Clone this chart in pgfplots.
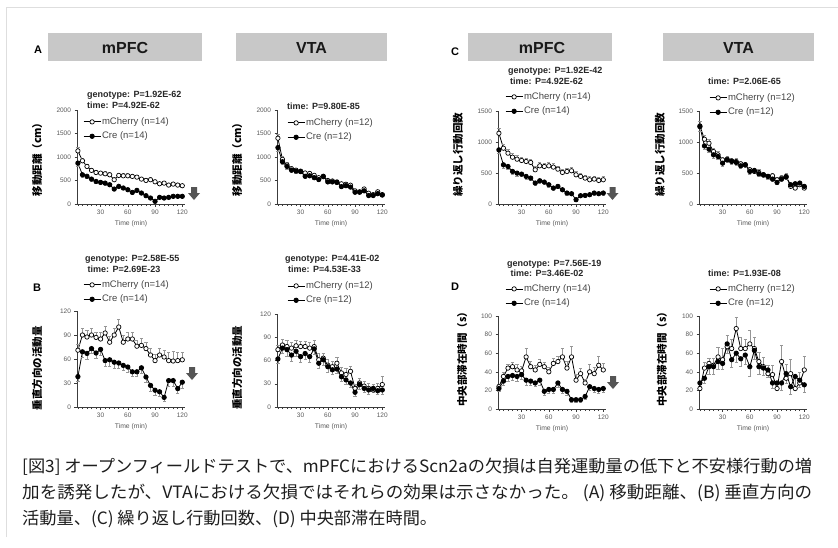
\documentclass[border=0pt]{standalone}
\usepackage{fontspec}
\setmainfont{Liberation Sans}
\newfontfamily\jp{Noto Sans CJK JP}
\usepackage{graphicx}
\usepackage{pgfplots}
\usepackage{pgfplotstable}
\pgfplotsset{compat=1.18}

\definecolor{hdr}{RGB}{200,200,200}
\definecolor{framegray}{RGB}{222,222,222}
\definecolor{axgray}{RGB}{60,60,60}
\definecolor{tickgray}{RGB}{90,90,90}
\definecolor{errgray}{RGB}{150,150,150}
\definecolor{arrgray}{RGB}{85,85,85}
\definecolor{legtext}{RGB}{70,70,70}
\definecolor{captext}{RGB}{30,30,30}

\pgfplotstableread{
x m me c ce
5 1130 70 870 60
10 920 60 622 50
15 800 55 590 45
20 715 50 530 45
25 670 50 480 40
30 657 50 460 40
35 643 50 445 40
40 622 45 410 40
45 516 45 318 35
50 608 50 375 40
55 600 50 340 35
60 600 50 304 35
65 587 45 247 30
70 572 45 290 35
75 530 45 233 30
80 502 45 177 30
85 516 45 127 25
90 473 40 57 20
95 431 40 141 25
100 445 40 127 25
105 403 40 141 25
110 424 40 163 25
115 403 35 163 25
120 389 35 163 25
}\am
\pgfplotstableread{
x m me c ce
5 1400 80 1200 70
10 950 60 900 55
15 830 55 800 50
20 750 50 720 45
25 720 50 700 45
30 700 50 690 45
35 660 45 590 40
40 650 45 600 40
45 610 45 560 40
50 560 40 520 40
55 580 40 590 40
60 500 40 470 35
65 490 40 470 35
70 470 40 460 35
75 430 35 370 30
80 420 35 390 30
85 400 35 360 30
90 280 30 250 30
95 260 30 250 30
100 320 30 280 30
105 230 30 180 25
110 200 30 180 25
115 260 30 220 25
120 200 30 190 25
}\av
\pgfplotstableread{
x m me c ce
5 1141 80 873 60
10 900 70 632 50
15 820 65 605 50
20 755 60 525 45
25 723 60 498 45
30 702 60 482 40
35 686 60 445 40
40 670 55 418 40
45 552 55 338 40
50 616 60 375 40
55 605 60 354 35
60 616 60 311 35
65 595 55 257 35
70 562 55 284 35
75 509 55 230 30
80 525 55 177 30
85 536 55 166 30
90 471 50 70 25
95 445 50 134 30
100 418 50 139 30
105 391 50 150 30
110 402 50 177 30
115 380 50 166 30
120 391 50 177 30
}\cm
\pgfplotstableread{
x m me c ce
5 1259 70 1248 70
10 1045 65 937 60
15 980 60 884 55
20 846 55 793 50
25 793 50 766 50
30 712 50 659 45
35 723 50 712 45
40 696 50 686 45
45 686 50 670 45
50 648 45 616 45
55 632 45 632 45
60 552 45 525 40
65 525 45 541 40
70 509 45 487 40
75 471 40 471 40
80 445 40 445 40
85 455 40 402 40
90 391 40 348 35
95 418 40 402 35
100 445 45 434 40
105 284 35 311 35
110 257 35 327 35
115 311 35 338 35
120 257 35 284 35
}\cv
\pgfplotstableread{
x m me c ce
5 71 8 38 6
10 90 9 69 7
15 87.5 8 67 7
20 90 8 73 6
25 87 7 67.5 6
30 85 8 72 7
35 92.5 9 58 7
40 81 8 59 8
45 90 8 56 7
50 100 10 55 7
55 81 9 52 6
60 85 9 50 6
65 85 8 44 6
70 76 8 44 5
75 77 9 49 7
80 73 8 37.5 7
85 65 9 27 7
90 58 8 21 6
95 65 8 19 5
100 62.5 8 12 5
105 58 10 33 7
110 57.5 12 33 7
115 58 11 23 6
120 59 10 31 7
}\bm
\pgfplotstableread{
x m me c ce
5 74 6 62 6
10 80 7 76 7
15 78 8 74 8
20 76 8 67 8
25 79 7 72 7
30 78 7 65 7
35 78 7 69 7
40 76 8 65 7
45 78 8 75 7
50 61 8 56.5 7
55 63 7 61 7
60 54 7 52 7
65 52 7 48 6
70 56.5 8 49 6
75 44 7 39 6
80 42 8 35 6
85 46 7 31 6
90 24 6 19 5
95 31 6 29 6
100 27 6 24 5
105 24 7 22 5
110 22 7 24 5
115 24 7 21 5
120 29 11 22 5
}\bv
\pgfplotstableread{
x m me c ce
5 24 3 22 3
10 35 4 30 4
15 44 4 35 5
20 45.5 5 36 5
25 42 6 35 5
30 41 5 37 5
35 56 9 31 5
40 45.5 6 30 4
45 42 5 28 4
50 48 6 31 5
55 45.5 5 19 4
60 40 5 21 4
65 49 6 21 4
70 51 6 28 5
75 56 9 21 4
80 44 7 19 4
85 56 12 10 3
90 31 6 10 3
95 38 6 10 3
100 28 4 13.5 3
105 40 8 24 4
110 38 7 22 4
115 47 10 21 4
120 42 7 22 4
}\dm
\pgfplotstableread{
x m me c ce
5 22 3 28 4
10 44 6 33 5
15 49 6 45.5 8
20 47 8 45.5 8
25 56 10 51 8
30 53 12 49 6
35 67 12 70 10
40 65 10 53 8
45 86.5 12 60 10
50 65 12 54 8
55 65 10 58 10
60 70 15 45.5 10
65 65 12 63 10
70 51 10 45.5 8
75 45.5 10 44 8
80 38 9 42 8
85 37 10 28 6
90 22 6 28 6
95 51 18 28 8
100 33 15 38 10
105 38 15 24 8
110 22 12 35 10
115 28 12 31 8
120 42 15 26 8
}\dv

\pgfplotsset{
  panel/.style={
    scale only axis, width=108pt, xmin=4, xmax=123, ymin=0,
    axis lines=left, axis line style={-, draw=axgray, line width=0.8pt},
    xtick={30,60,90,120}, minor xtick={5,10,...,120},
    tick align=outside, major tick length=2.5pt, minor tick length=2pt,
    tick style={draw=axgray, line width=0.5pt},
    ticklabel style={font=\fontsize{6.5}{7}\selectfont, text=tickgray},
    /pgf/number format/assume math mode=true,
    /pgf/number format/1000 sep={},
    scaled y ticks=false,
    xlabel={Time (min)},
    xlabel style={font=\fontsize{6.8}{8}\selectfont, text=tickgray, at={(axis description cs:0.5,0)}, anchor=center, yshift=-20pt},
    ylabel style={font=\jp\bfseries\fontsize{10.5}{12}\selectfont, text=black, anchor=center},
    clip=false,
    legend style={draw=none, fill=none, inner sep=0pt, row sep=4pt, font=\fontsize{9.5}{10}\selectfont, text=legtext, nodes={inner sep=1pt}, at={(axis description cs:0,1)}, anchor=north west},
    legend cell align=left,
  },
  mch/.style={black, line width=0.8pt, mark=*, mark size=2.2pt, mark options={fill=white, solid, line width=0.7pt},
    error bars/y dir=plus, error bars/y explicit,
    error bars/error bar style={errgray, line width=0.5pt},
    error bars/error mark options={errgray, rotate=90, mark size=1.6pt, line width=0.5pt}},
  cre/.style={black, line width=0.8pt, mark=*, mark size=2.2pt, mark options={fill=black, solid},
    error bars/y dir=minus, error bars/y explicit,
    error bars/error bar style={errgray, line width=0.5pt},
    error bars/error mark options={errgray, rotate=90, mark size=1.6pt, line width=0.5pt}},
}

\newlength\capw
\newcommand{\capfit}[2]{\settowidth{\capw}{#2}\pgfmathsetmacro\capr{#1/\capw}\scalebox{\capr}[1]{#2}}

\begin{document}
\begin{tikzpicture}
\path[use as bounding box] (0pt,0pt) rectangle (838pt,-547pt);
\fill[white] (0pt,0pt) rectangle (838pt,-547pt);
\draw[framegray, line width=1pt] (6pt,-537pt) -- (6pt,-7pt) -- (838pt,-7pt);

% headers
\fill[hdr] (48pt,-33pt) rectangle (202pt,-61pt);
\fill[hdr] (236pt,-33pt) rectangle (387pt,-61pt);
\fill[hdr] (468pt,-33pt) rectangle (612pt,-61pt);
\fill[hdr] (663pt,-33pt) rectangle (814pt,-61pt);
\begin{scope}[every node/.style={font=\bfseries\fontsize{16}{18}\selectfont, text=black!90}]
\node at (125pt,-47.5pt) {mPFC};
\node at (311.5pt,-47.5pt) {VTA};
\node at (542pt,-47.5pt) {mPFC};
\node at (738.5pt,-47.5pt) {VTA};
\end{scope}
\begin{scope}[every node/.style={font=\bfseries\fontsize{11}{12}\selectfont}]
\node at (38pt,-50pt) {A};
\node at (455pt,-52pt) {C};
\node at (37pt,-288pt) {B};
\node at (455pt,-287pt) {D};
\end{scope}

% stat titles
\begin{scope}[every node/.style={anchor=base west, inner sep=0pt, font=\bfseries\fontsize{9}{11}\selectfont, text=black!85}]
\node at (87pt,-97.2pt) {genotype: P=1.92E-62};
\node at (87pt,-108.2pt) {time: P=4.92E-62};
\node at (287pt,-109pt) {time: P=9.80E-85};
\node at (508pt,-73.2pt) {genotype: P=1.92E-42};
\node at (510pt,-84.2pt) {time: P=4.92E-62};
\node at (708pt,-84.2pt) {time: P=2.06E-65};
\node at (85pt,-261.2pt) {genotype: P=2.58E-55};
\node at (87.5pt,-272.2pt) {time: P=2.69E-23};
\node at (285pt,-261.2pt) {genotype: P=4.41E-02};
\node at (288pt,-272.2pt) {time: P=4.53E-33};
\node at (507pt,-266.2pt) {genotype: P=7.56E-19};
\node at (510.5pt,-276.2pt) {time: P=3.46E-02};
\node at (708pt,-276.2pt) {time: P=1.93E-08};
\end{scope}

% ---- A mPFC
\begin{axis}[panel, at={(77pt,-204pt)}, anchor=south west, height=94pt, ymax=2000, ytick={0,500,1000,1500,2000},
  ylabel={移動距離（cm）}, ylabel style={at={(axis description cs:-0.37,0.5)}},
  legend style={xshift=6pt, yshift=-6.5pt}]
\addplot[mch] table[x=x, y=m, y error=me] {\am};
\addplot[cre] table[x=x, y=c, y error=ce] {\am};
\legend{mCherry (n=14), Cre (n=14)}
\end{axis}
% ---- A VTA
\begin{axis}[panel, at={(277pt,-204pt)}, anchor=south west, height=94pt, ymax=2000, ytick={0,500,1000,1500,2000},
  ylabel={移動距離（cm）}, ylabel style={at={(axis description cs:-0.37,0.5)}},
  legend style={xshift=10pt, yshift=-7.5pt}]
\addplot[mch] table[x=x, y=m, y error=me] {\av};
\addplot[cre] table[x=x, y=c, y error=ce] {\av};
\legend{mCherry (n=12), Cre (n=12)}
\end{axis}
% ---- C mPFC
\begin{axis}[panel, at={(498pt,-204pt)}, anchor=south west, height=93pt, ymax=1500, ytick={0,500,1000,1500},
  ylabel={繰り返し行動回数}, ylabel style={at={(axis description cs:-0.37,0.527)}},
  legend style={xshift=7pt, yshift=19.5pt}]
\addplot[mch] table[x=x, y=m, y error=me] {\cm};
\addplot[cre] table[x=x, y=c, y error=ce] {\cm};
\legend{mCherry (n=14), Cre (n=14)}
\end{axis}
% ---- C VTA
\begin{axis}[panel, at={(699pt,-204pt)}, anchor=south west, height=93pt, ymax=1500, ytick={0,500,1000,1500},
  ylabel={繰り返し行動回数}, ylabel style={at={(axis description cs:-0.361,0.527)}},
  legend style={xshift=10pt, yshift=18.5pt}]
\addplot[mch] table[x=x, y=m, y error=me] {\cv};
\addplot[cre] table[x=x, y=c, y error=ce] {\cv};
\legend{mCherry (n=12), Cre (n=12)}
\end{axis}
% ---- B mPFC
\begin{axis}[panel, at={(77pt,-407pt)}, anchor=south west, height=96pt, ymax=120, ytick={0,30,60,90,120},
  ylabel={垂直方向の活動量}, ylabel style={at={(axis description cs:-0.37,0.406)}},
  legend style={xshift=6pt, yshift=31.5pt}]
\addplot[mch] table[x=x, y=m, y error=me] {\bm};
\addplot[cre] table[x=x, y=c, y error=ce] {\bm};
\legend{mCherry (n=14), Cre (n=14)}
\end{axis}
% ---- B VTA
\begin{axis}[panel, at={(277pt,-407pt)}, anchor=south west, height=93pt, ymax=120, ytick={0,30,60,90,120},
  ylabel={垂直方向の活動量}, ylabel style={at={(axis description cs:-0.37,0.42)}},
  legend style={xshift=10pt, yshift=33.5pt}]
\addplot[mch] table[x=x, y=m, y error=me] {\bv};
\addplot[cre] table[x=x, y=c, y error=ce] {\bv};
\legend{mCherry (n=12), Cre (n=12)}
\end{axis}
% ---- D mPFC
\begin{axis}[panel, at={(498pt,-409pt)}, anchor=south west, height=93pt, ymax=100, ytick={0,20,40,60,80,100},
  ylabel={中央部滞在時間（s）}, ylabel style={at={(axis description cs:-0.333,0.56)}},
  legend style={xshift=7pt, yshift=32.5pt}]
\addplot[mch] table[x=x, y=m, y error=me] {\dm};
\addplot[cre] table[x=x, y=c, y error=ce] {\dm};
\legend{mCherry (n=14), Cre (n=14)}
\end{axis}
% ---- D VTA
\begin{axis}[panel, at={(699pt,-409pt)}, anchor=south west, height=93pt, ymax=100, ytick={0,20,40,60,80,100},
  ylabel={中央部滞在時間（s）}, ylabel style={at={(axis description cs:-0.343,0.56)}},
  legend style={xshift=10pt, yshift=32.5pt}]
\addplot[mch] table[x=x, y=m, y error=me] {\dv};
\addplot[cre] table[x=x, y=c, y error=ce] {\dv};
\legend{mCherry (n=12), Cre (n=12)}
\end{axis}

% arrows
\begin{scope}[x=1pt,y=-1pt]
\fill[arrgray] (191,187) -- (197,187) -- (197,193) -- (200,193) -- (194,200) -- (188,193) -- (191,193) -- cycle;
\fill[arrgray] (609.5,187) -- (615.5,187) -- (615.5,193) -- (618.5,193) -- (612.5,200) -- (606.5,193) -- (609.5,193) -- cycle;
\fill[arrgray] (189,367) -- (195,367) -- (195,373) -- (198,373) -- (192,380) -- (186,373) -- (189,373) -- cycle;
\fill[arrgray] (610,376) -- (616,376) -- (616,382) -- (619,382) -- (613,389) -- (607,382) -- (610,382) -- cycle;
\end{scope}

% caption
\begin{scope}[every node/.style={anchor=west, inner sep=0pt, font=\jp\fontsize{17}{20}\selectfont, text=captext}]
\node at (22pt,-467pt) {\capfit{790}{[図3] オープンフィールドテストで、mPFCにおけるScn2aの欠損は自発運動量の低下と不安様行動の増}};
\node at (22pt,-493pt) {\capfit{790}{加を誘発したが、VTAにおける欠損ではそれらの効果は示さなかった。 (A) 移動距離、(B) 垂直方向の}};
\node at (22pt,-519pt) {\capfit{415}{活動量、(C) 繰り返し行動回数、(D) 中央部滞在時間。}};
\end{scope}
\end{tikzpicture}
\end{document}
